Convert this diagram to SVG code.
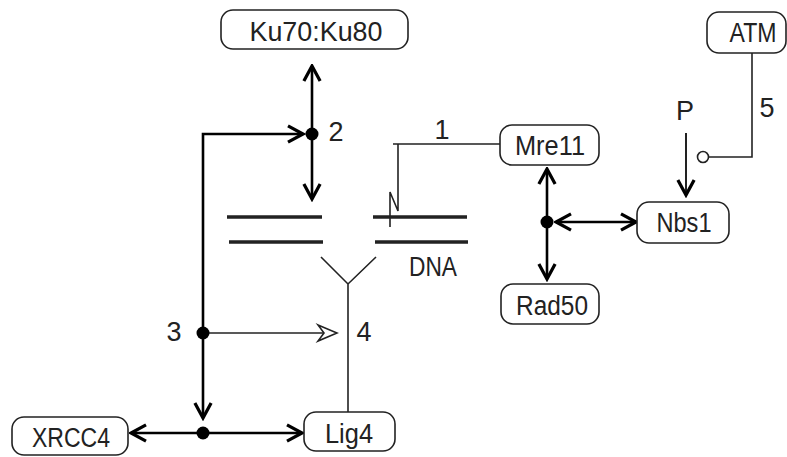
<svg xmlns="http://www.w3.org/2000/svg" width="787" height="457" viewBox="0 0 787 457">
<style>
.box{fill:#fff;stroke:#222;stroke-width:1.6}
.lbl{font-family:"Liberation Sans",Arial,sans-serif;font-size:27px;fill:#222;text-anchor:middle}
.thick{fill:none;stroke:#000;stroke-width:2.6}
.thin{fill:none;stroke:#222;stroke-width:1.6}
.dot{fill:#000}
</style>
<defs>
<marker id="ah" markerUnits="userSpaceOnUse" markerWidth="20" markerHeight="20" viewBox="-14 -8 16 16" refX="0" refY="0" orient="auto-start-reverse">
<path d="M-12,-6.5 L0,0 L-12,6.5" fill="none" stroke="#000" stroke-width="2.6" stroke-linejoin="miter"/>
</marker>
<marker id="open" markerUnits="userSpaceOnUse" markerWidth="24" markerHeight="20" viewBox="-22 -10 24 20" refX="0" refY="0" orient="auto">
<path d="M-19,-8 L0,0 L-19,8 L-13,0 Z" fill="#fff" stroke="#222" stroke-width="1.6"/>
</marker>
</defs>

<g id="connectors">
<line class="thick" x1="312" y1="66" x2="312" y2="199" marker-start="url(#ah)" marker-end="url(#ah)"/>
<path class="thick" d="M303,134 H203 V418" marker-start="url(#ah)" marker-end="url(#ah)"/>
<line class="thick" x1="131" y1="433" x2="302" y2="433" marker-start="url(#ah)" marker-end="url(#ah)"/>
<line class="thin" x1="203" y1="333" x2="337" y2="333" marker-end="url(#open)"/>
<path class="thin" d="M348,412 V284 M321,257 L348,284 L376,257"/>
<path class="thin" d="M393,144 H500 M398,144 V211 L390,192 V227"/>
<line class="thick" x1="547" y1="169" x2="547" y2="279" marker-start="url(#ah)" marker-end="url(#ah)"/>
<line class="thick" x1="556" y1="222" x2="636" y2="222" marker-start="url(#ah)" marker-end="url(#ah)"/>
<path class="thin" d="M752,53 V157 H709"/>
<circle cx="703" cy="157" r="5.5" fill="#fff" stroke="#222" stroke-width="1.6"/>
<line x1="686" y1="133" x2="686" y2="195" stroke="#222" stroke-width="2" marker-end="url(#ah)"/>
<circle class="dot" cx="312" cy="134" r="6.5"/>
<circle class="dot" cx="203" cy="333" r="6.5"/>
<circle class="dot" cx="203" cy="433" r="6.5"/>
<circle class="dot" cx="547" cy="222" r="6.5"/>
</g>

<g id="dna">
<path d="M227,217 H322 M229,242 H323 M373,217 H467 M375,242 H468" stroke="#222" stroke-width="3.5" fill="none"/>
<text class="lbl" x="433" y="276" textLength="48" lengthAdjust="spacingAndGlyphs">DNA</text>
</g>

<g id="labels">
<text class="lbl" x="336" y="141">2</text>
<text class="lbl" x="442" y="139">1</text>
<text class="lbl" x="174" y="341">3</text>
<text class="lbl" x="364" y="341">4</text>
<text class="lbl" x="685" y="120">P</text>
<text class="lbl" x="767" y="117">5</text>
</g>

<g id="ku">
<rect class="box" x="221" y="10" width="187" height="39" rx="12"/>
<text class="lbl" x="316" y="41" textLength="133" lengthAdjust="spacingAndGlyphs">Ku70:Ku80</text>
</g>
<g id="mre11">
<rect class="box" x="500" y="125" width="99" height="40" rx="12"/>
<text class="lbl" x="550" y="155" textLength="70" lengthAdjust="spacingAndGlyphs">Mre11</text>
</g>
<g id="rad50">
<rect class="box" x="501" y="284" width="98" height="40" rx="12"/>
<text class="lbl" x="552" y="315" textLength="72" lengthAdjust="spacingAndGlyphs">Rad50</text>
</g>
<g id="nbs1">
<rect class="box" x="637" y="202" width="92" height="41" rx="12"/>
<text class="lbl" x="684" y="232" textLength="55" lengthAdjust="spacingAndGlyphs">Nbs1</text>
</g>
<g id="atm">
<rect class="box" x="707" y="12" width="79" height="41" rx="12"/>
<text class="lbl" x="753" y="42" textLength="47" lengthAdjust="spacingAndGlyphs">ATM</text>
</g>
<g id="xrcc4">
<rect class="box" x="12" y="417" width="116" height="38" rx="12"/>
<text class="lbl" x="71" y="447" textLength="78" lengthAdjust="spacingAndGlyphs">XRCC4</text>
</g>
<g id="lig4">
<rect class="box" x="304" y="412" width="91" height="39" rx="12"/>
<text class="lbl" x="349" y="443" textLength="48" lengthAdjust="spacingAndGlyphs">Lig4</text>
</g>
</svg>
